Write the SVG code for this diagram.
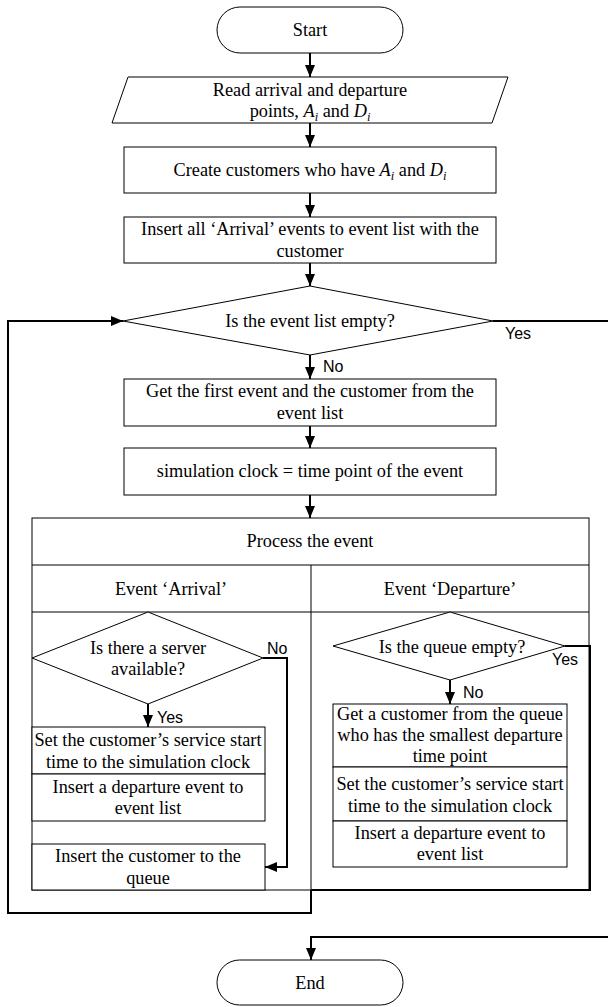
<svg xmlns="http://www.w3.org/2000/svg" width="608" height="1007" viewBox="0 0 608 1007">
<defs>
<marker id="ah" viewBox="0 0 12 10" markerWidth="12" markerHeight="10" refX="12" refY="5" orient="auto" markerUnits="userSpaceOnUse"><path d="M0,0 L12,5 L0,10 z" fill="#000"/></marker>
<style>
.s{fill:#fff;stroke:#000;stroke-width:1}
.n{fill:none;stroke:#000;stroke-width:1}
.c{fill:none;stroke:#000;stroke-width:2}
.t{font-family:"Liberation Serif","Times New Roman",serif;font-size:18.3px;text-anchor:middle;fill:#000}
.l{font-family:"Liberation Sans",Arial,sans-serif;font-size:16px;fill:#000}
.i{font-style:italic}
.sb{font-style:italic;font-size:12.5px}
</style>
</defs>
<rect width="608" height="1007" fill="#fff"/>

<g id="start">
<rect class="s" x="217" y="7" width="186" height="46" rx="23"/>
<text class="t" x="310" y="36">Start</text>
</g>

<g id="read">
<polygon class="s" points="128,77 508,77 492,123 112,123"/>
<text class="t" x="310" y="96">Read arrival and departure</text>
<text class="t" x="310" y="117">points, <tspan class="i">A</tspan><tspan class="sb" dy="4">i</tspan><tspan dy="-4"> and </tspan><tspan class="i">D</tspan><tspan class="sb" dy="4">i</tspan></text>
</g>

<g id="create">
<rect class="s" x="124" y="147" width="372" height="46"/>
<text class="t" x="310" y="176">Create customers who have <tspan class="i">A</tspan><tspan class="sb" dy="4">i</tspan><tspan dy="-4"> and </tspan><tspan class="i">D</tspan><tspan class="sb" dy="4">i</tspan></text>
</g>

<g id="insertArrivals">
<rect class="s" x="124" y="217" width="372" height="46"/>
<text class="t" x="310" y="235">Insert all ‘Arrival’ events to event list with the</text>
<text class="t" x="310" y="257">customer</text>
</g>

<g id="emptyCheck">
<polygon class="s" points="310,286 493,321 310,355 123,321"/>
<text class="t" x="310" y="327">Is the event list empty?</text>
</g>

<g id="getFirst">
<rect class="s" x="124" y="379" width="372" height="47"/>
<text class="t" x="310" y="397">Get the first event and the customer from the</text>
<text class="t" x="310" y="419">event list</text>
</g>

<g id="simClock">
<rect class="s" x="124" y="448" width="372" height="47"/>
<text class="t" x="310" y="477">simulation clock = time point of the event</text>
</g>

<g id="process">
<rect class="s" x="32" y="518" width="557" height="372"/>
<line class="n" x1="32" y1="565" x2="589" y2="565"/>
<line class="n" x1="32" y1="612" x2="589" y2="612"/>
<line class="n" x1="311" y1="565" x2="311" y2="890"/>
<text class="t" x="310" y="547">Process the event</text>
<text class="t" x="171" y="595">Event ‘Arrival’</text>
<text class="t" x="450" y="595">Event ‘Departure’</text>
</g>

<g id="serverCheck">
<polygon class="s" points="148,612 263,658 148,704 32,658"/>
<text class="t" x="148" y="654">Is there a server</text>
<text class="t" x="148" y="675">available?</text>
</g>

<g id="arrSetStart">
<rect class="s" x="32" y="727" width="233" height="47"/>
<text class="t" x="148" y="746">Set the customer’s service start</text>
<text class="t" x="148" y="768">time to the simulation clock</text>
</g>

<g id="arrInsertDeparture">
<rect class="s" x="32" y="774" width="233" height="47"/>
<text class="t" x="148" y="793">Insert a departure event to</text>
<text class="t" x="148" y="814">event list</text>
</g>

<g id="insertQueue">
<rect class="s" x="32" y="844" width="233" height="46"/>
<text class="t" x="148" y="862">Insert the customer to the</text>
<text class="t" x="148" y="884">queue</text>
</g>

<g id="queueCheck">
<polygon class="s" points="450,612 565,646 450,680 333,646"/>
<text class="t" x="452" y="653">Is the queue empty?</text>
</g>

<g id="depGetCustomer">
<rect class="s" x="333" y="704" width="234" height="63"/>
<text class="t" x="450" y="720">Get a customer from the queue</text>
<text class="t" x="450" y="741">who has the smallest departure</text>
<text class="t" x="450" y="762">time point</text>
</g>

<g id="depSetStart">
<rect class="s" x="333" y="767" width="234" height="54"/>
<text class="t" x="450" y="790">Set the customer’s service start</text>
<text class="t" x="450" y="812">time to the simulation clock</text>
</g>

<g id="depInsertDeparture">
<rect class="s" x="333" y="821" width="234" height="46"/>
<text class="t" x="450" y="839">Insert a departure event to</text>
<text class="t" x="450" y="860">event list</text>
</g>

<g id="end">
<rect class="s" x="217" y="960" width="186" height="45" rx="22.5"/>
<text class="t" x="310" y="989">End</text>
</g>

<g id="connectors">
<path class="c" d="M310,53 V77" marker-end="url(#ah)"/>
<path class="c" d="M310,123 V147" marker-end="url(#ah)"/>
<path class="c" d="M310,193 V217" marker-end="url(#ah)"/>
<path class="c" d="M310,263 V286" marker-end="url(#ah)"/>
<path class="c" d="M310,355 V379" marker-end="url(#ah)"/>
<path class="c" d="M310,426 V448" marker-end="url(#ah)"/>
<path class="c" d="M310,495 V518" marker-end="url(#ah)"/>
<path class="c" d="M311,890 V913 H8 V321 H123" marker-end="url(#ah)"/>
<path class="c" d="M493,321 H614 V937 H311 V960" marker-end="url(#ah)"/>
<path class="c" d="M148,704 V727" marker-end="url(#ah)"/>
<path class="c" d="M263,658 H287 V867 H265" marker-end="url(#ah)"/>
<path class="c" d="M565,646 H590 V890 H311"/>
<path class="c" d="M450,680 V704" marker-end="url(#ah)"/>
<text class="l" x="505" y="339">Yes</text>
<text class="l" x="323" y="372">No</text>
<text class="l" x="267" y="654">No</text>
<text class="l" x="157" y="723">Yes</text>
<text class="l" x="552" y="665">Yes</text>
<text class="l" x="463" y="698">No</text>
</g>
</svg>
